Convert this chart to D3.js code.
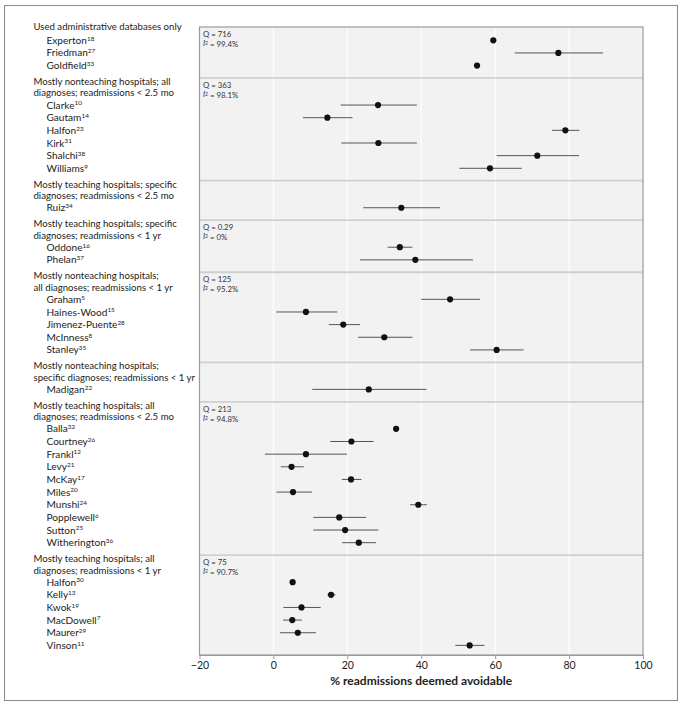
<!DOCTYPE html>
<html><head><meta charset="utf-8">
<script src="https://cdn.jsdelivr.net/npm/d3@7"></script>
<style>body{margin:0;background:#fff}svg{display:block}text{font-family:Lato,"Noto Sans",sans-serif}</style>
</head><body>
<svg id="c" width="684" height="708"></svg>
<script>
// ---- data ----
const groupHeaders = [
  ["Used administrative databases only"],
  ["Mostly nonteaching hospitals; all", "diagnoses; readmissions < 2.5 mo"],
  ["Mostly teaching hospitals; specific", "diagnoses; readmissions < 2.5 mo"],
  ["Mostly teaching hospitals; specific", "diagnoses; readmissions < 1 yr"],
  ["Mostly nonteaching hospitals;", "all diagnoses; readmissions < 1 yr"],
  ["Mostly nonteaching hospitals;", "specific diagnoses; readmissions < 1 yr"],
  ["Mostly teaching hospitals; all", "diagnoses; readmissions < 2.5 mo"],
  ["Mostly teaching hospitals; all", "diagnoses; readmissions < 1 yr"]
];
const groupQ  = ["716", "363", null, "0.29", "125", null, "213", "75"];
const groupI2 = ["99.4%", "98.1%", null, "0%", "95.2%", null, "94.8%", "90.7%"];
const studyNames = ["Experton","Friedman","Goldfield",
  "Clarke","Gautam","Halfon","Kirk","Shalchi","Williams",
  "Ruiz",
  "Oddone","Phelan",
  "Graham","Haines-Wood","Jimenez-Puente","McInness","Stanley",
  "Madigan",
  "Balla","Courtney","Frankl","Levy","McKay","Miles","Munshi","Popplewell","Sutton","Witherington",
  "Halfon","Kelly","Kwok","MacDowell","Maurer","Vinson"];
const studyRefs = ["18","27","33",
  "10","14","23","31","38","9",
  "34",
  "16","37",
  "5","15","28","8","35",
  "22",
  "32","26","12","21","17","20","24","6","25","36",
  "30","13","19","7","29","11"];
const studyGroup = [0,0,0, 1,1,1,1,1,1, 2, 3,3, 4,4,4,4,4, 5, 6,6,6,6,6,6,6,6,6,6, 7,7,7,7,7,7];
const estimates = [59.5,77.1,55.1,
  28.3,14.6,79.0,28.4,71.4,58.6,
  34.6,
  34.2,38.4,
  47.8,8.8,18.9,30.0,60.4,
  25.8,
  33.2,21.1,8.8,4.9,21.0,5.3,39.2,17.8,19.4,23.1,
  5.2,15.6,7.6,5.1,6.6,53.1];
const ciLow = [null,65.3,null,
  18.2,8.0,75.4,18.4,60.4,50.3,
  24.3,
  30.9,23.4,
  40.0,0.8,15.0,22.9,53.2,
  10.5,
  null,15.4,-2.3,2.0,18.5,0.8,37.0,10.8,10.8,18.6,
  null,14.6,2.7,2.6,1.8,49.2];
const ciHigh = [null,89.2,null,
  38.8,21.4,82.8,38.8,82.7,67.2,
  45.1,
  37.6,54.0,
  55.9,17.3,23.4,37.6,67.7,
  41.4,
  null,27.1,19.9,8.2,23.8,10.4,41.5,25.1,28.4,27.8,
  null,16.8,12.8,7.7,11.5,57.1];
const xTicks = [-20, 0, 20, 40, 60, 80, 100];
const xTitle = "% readmissions deemed avoidable";

// ---- layout ----
const svg = d3.select("#c");
const GAP = 2.12; // extra slots between groups
const slots = studyGroup.map((g, i) => i + g * GAP);
const nG = groupHeaders.length;
const firstSlot = d3.range(nG).map(g => d3.min(slots.filter((s, i) => studyGroup[i] === g)));
const lastSlot = d3.range(nG).map(g => d3.max(slots.filter((s, i) => studyGroup[i] === g)));

const x = d3.scaleLinear().domain([-20, 100]).range([199.5, 643]);
const y = d3.scaleLinear().domain([-1.05, 48.6]).range([27, 655]);
const [x0, x1] = x.range(), [y0, y1] = y.range();

// outer frame
svg.append("rect").attr("x", 4.5).attr("y", 5.5).attr("width", 673).attr("height", 695)
  .attr("fill", "none").attr("stroke", "#8a8a8a").attr("stroke-width", 1);

// plot background
svg.append("rect").attr("x", x0).attr("y", y0).attr("width", x1 - x0).attr("height", y1 - y0)
  .attr("fill", "#f2f2f2");
// grid
svg.append("g").selectAll("line").data(xTicks.slice(1, -1)).join("line")
  .attr("x1", d => x(d)).attr("x2", d => x(d)).attr("y1", y0).attr("y2", y1)
  .attr("stroke", "#fff").attr("stroke-width", 1.2);
// separators
const sepPos = d3.range(1, nG).map(g => lastSlot[g - 1] + 0.98);
svg.append("g").selectAll("line").data(sepPos).join("line")
  .attr("x1", x0).attr("x2", x1).attr("y1", d => y(d)).attr("y2", d => y(d))
  .attr("stroke", "#d0d0d0").attr("stroke-width", 1.8);
// border
svg.append("rect").attr("x", x0).attr("y", y0).attr("width", x1 - x0).attr("height", y1 - y0)
  .attr("fill", "none").attr("stroke", "#9a9a9a").attr("stroke-width", 1.2);

// Q / I2
const panelTop = [y0].concat(sepPos.map(d => y(d)));
const qg = svg.append("g").attr("font-size", 7.8).attr("fill", "#333");
d3.range(nG).forEach(g => {
  if (groupQ[g] === null) return;
  qg.append("text").attr("x", 203).attr("y", panelTop[g] + 7.5).attr("dy", "0.35em").text("Q = " + groupQ[g]);
  const t = qg.append("text").attr("x", 203).attr("y", panelTop[g] + 16.5).attr("dy", "0.35em");
  t.append("tspan").attr("font-style", "italic").text("I");
  t.append("tspan").attr("font-size", 5).attr("dy", "-0.2em").text("2");
  t.append("tspan").attr("dy", "0.2em").text(" = " + groupI2[g]);
});

// CI lines
svg.append("g").selectAll("line").data(estimates.map((d, i) => i).filter(i => ciLow[i] !== null)).join("line")
  .attr("x1", i => x(ciLow[i])).attr("x2", i => x(ciHigh[i]))
  .attr("y1", i => y(slots[i])).attr("y2", i => y(slots[i]))
  .attr("stroke", "#555").attr("stroke-width", 1);
// points
svg.append("g").selectAll("circle").data(estimates).join("circle")
  .attr("cx", d => x(d)).attr("cy", (d, i) => y(slots[i])).attr("r", 3.1).attr("fill", "#111");

// labels
const FS = 9.6, FN = 10.1;
const lg = svg.append("g").attr("fill", "#222");
d3.range(nG).forEach(g => {
  const lines = groupHeaders[g];
  lines.forEach((txt, k) => {
    const yy = lines.length === 1 ? y(firstSlot[g] - 1.05) : y(firstSlot[g]) - 23.5 + k * 11.5;
    lg.append("text").attr("x", 33.5).attr("y", yy).attr("dy", "0.35em").attr("font-size", FS).text(txt);
  });
});
studyNames.forEach((n, i) => {
  const t = lg.append("text").attr("x", 46.5).attr("y", y(slots[i])).attr("dy", "0.35em").attr("font-size", FN);
  t.append("tspan").text(n);
  t.append("tspan").attr("font-size", 6.4).attr("dy", "-0.5em").text(studyRefs[i]);
});

// axis
const ax = svg.append("g").attr("transform", `translate(0,${y1})`)
  .call(d3.axisBottom(x).tickValues(xTicks).tickSize(4).tickSizeOuter(0)
    .tickFormat(d => d < 0 ? "\u2212" + Math.abs(d) : d));
ax.select(".domain").attr("stroke", "#9a9a9a");
ax.selectAll(".tick line").attr("stroke", "#9a9a9a");
ax.selectAll(".tick text").attr("font-size", 10.5).attr("fill", "#222").attr("font-family", 'Lato,sans-serif').attr("y", 4).attr("dy", "0.95em");
svg.append("text").attr("x", (x0 + x1) / 2).attr("y", 681).attr("dy", "0.35em")
  .attr("text-anchor", "middle").attr("font-weight", "bold").attr("font-size", 12).attr("fill", "#222").text(xTitle);
</script>
</body></html>
